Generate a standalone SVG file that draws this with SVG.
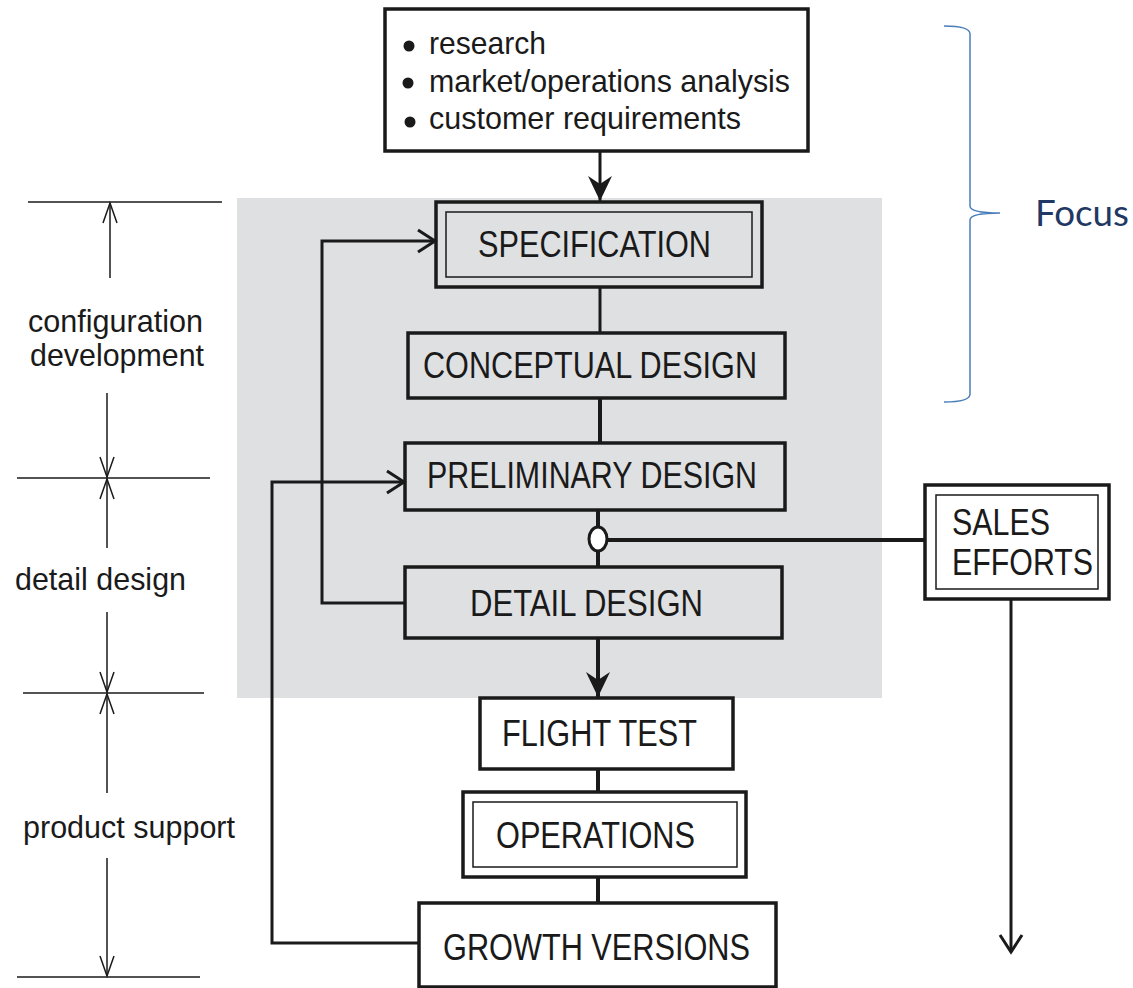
<svg xmlns="http://www.w3.org/2000/svg" width="1133" height="988" viewBox="0 0 1133 988">
<style>
.box{fill:none;stroke:#1a1a1a;stroke-width:3.5}
.wbox{fill:#fff;stroke:#1a1a1a;stroke-width:3.5}
.inner{fill:none;stroke:#1a1a1a;stroke-width:1.5}
.t{font-family:"Liberation Sans",Arial,sans-serif;font-size:37px;fill:#1a1a1a}
.s{font-family:"Liberation Sans",Arial,sans-serif;font-size:32px;fill:#1a1a1a}
.c{fill:none;stroke:#1a1a1a;stroke-width:3}
.ct{fill:none;stroke:#1a1a1a;stroke-width:4}
.dim{fill:none;stroke:#1a1a1a;stroke-width:1.5}
</style>
<defs>
<marker id="open" viewBox="-20 -14 24 28" refX="0" refY="0" markerWidth="24" markerHeight="28" markerUnits="userSpaceOnUse" orient="auto">
<path d="M-17,-11 L0,0 L-17,11" fill="none" stroke="#1a1a1a" stroke-width="3"/>
</marker>
<marker id="fill" viewBox="-26 -14 30 28" refX="0" refY="0" markerWidth="30" markerHeight="28" markerUnits="userSpaceOnUse" orient="auto">
<path d="M-25,-12 L0,0 L-25,12 L-17,0 z" fill="#1a1a1a"/>
</marker>
<marker id="thin" viewBox="-22 -10 26 20" refX="0" refY="0" markerWidth="26" markerHeight="20" markerUnits="userSpaceOnUse" orient="auto">
<path d="M-20,-7 L0,0 L-20,7" fill="none" stroke="#1a1a1a" stroke-width="1.5"/>
</marker>
</defs>
<rect width="1133" height="988" fill="#fff"/>
<rect id="phase-bg" x="237" y="198" width="645" height="500" fill="#dfe0e2"/>

<g id="dimensions">
<line class="dim" x1="28" y1="202" x2="222" y2="202"/>
<line class="dim" x1="17" y1="478" x2="210" y2="478"/>
<line class="dim" x1="23" y1="693" x2="204" y2="693"/>
<line class="dim" x1="17" y1="977" x2="200" y2="977"/>
<line class="dim" x1="110" y1="278" x2="110" y2="203" marker-end="url(#thin)"/>
<line class="dim" x1="107" y1="393" x2="107" y2="477" marker-end="url(#thin)"/>
<line class="dim" x1="107" y1="548" x2="107" y2="479" marker-end="url(#thin)"/>
<line class="dim" x1="107" y1="612" x2="107" y2="692" marker-end="url(#thin)"/>
<line class="dim" x1="107" y1="793" x2="107" y2="694" marker-end="url(#thin)"/>
<line class="dim" x1="107" y1="858" x2="107" y2="976" marker-end="url(#thin)"/>
<text class="s" x="28" y="332" textLength="175" lengthAdjust="spacingAndGlyphs">configuration</text>
<text class="s" x="30" y="366" textLength="174" lengthAdjust="spacingAndGlyphs">development</text>
<text class="s" x="15" y="590" textLength="171" lengthAdjust="spacingAndGlyphs">detail design</text>
<text class="s" x="23" y="838" textLength="212" lengthAdjust="spacingAndGlyphs">product support</text>
</g>

<g id="focus">
<path d="M944,26 Q970,26 970,34 L970,206 Q970,213 1000,213 Q970,213 970,220 L970,394 Q970,402 944,402" fill="none" stroke="#4a7ebb" stroke-width="1.5"/>
<text x="1035" y="226" font-family="Lato,'Open Sans',sans-serif" font-size="37" fill="#1f3864" textLength="94" lengthAdjust="spacingAndGlyphs">Focus</text>
</g>

<g id="connectors">
<line class="c" x1="600" y1="151" x2="600" y2="201" marker-end="url(#fill)"/>
<line class="c" x1="600" y1="287" x2="600" y2="333"/>
<line class="ct" x1="600" y1="398" x2="600" y2="443"/>
<line class="ct" x1="598" y1="510" x2="598" y2="567"/>
<line class="ct" x1="608" y1="540" x2="925" y2="540"/>
<line class="ct" x1="598" y1="638" x2="598" y2="697" marker-end="url(#fill)"/>
<line class="ct" x1="598" y1="769" x2="598" y2="792"/>
<line class="ct" x1="598" y1="877" x2="598" y2="903"/>
<polyline class="c" points="405,603 322,603 322,241 435,241" marker-end="url(#open)"/>
<polyline class="c" points="419,943 272,943 272,482 404,482" marker-end="url(#open)"/>
<line class="c" x1="1011" y1="599" x2="1011" y2="952" marker-end="url(#open)"/>
<ellipse cx="598" cy="539" rx="9" ry="12" fill="#fff" stroke="#1a1a1a" stroke-width="3"/>
</g>

<g id="inputs">
<rect class="wbox" x="385" y="9" width="423" height="142"/>
<circle cx="409" cy="46" r="5.5" fill="#1a1a1a"/>
<circle cx="408" cy="83" r="5.5" fill="#1a1a1a"/>
<circle cx="410" cy="122" r="5.5" fill="#1a1a1a"/>
<text class="s" x="429" y="54" textLength="117" lengthAdjust="spacingAndGlyphs">research</text>
<text class="s" x="429" y="92" textLength="361" lengthAdjust="spacingAndGlyphs">market/operations analysis</text>
<text class="s" x="429" y="129" textLength="312" lengthAdjust="spacingAndGlyphs">customer requirements</text>
</g>

<g id="specification">
<rect class="box" x="436" y="202" width="326" height="85"/>
<rect class="inner" x="446" y="212" width="306" height="65"/>
<text class="t" x="478" y="257" textLength="233" lengthAdjust="spacingAndGlyphs">SPECIFICATION</text>
</g>

<g id="conceptual">
<rect class="box" x="408" y="333" width="377" height="65"/>
<text class="t" x="423" y="378" textLength="334" lengthAdjust="spacingAndGlyphs">CONCEPTUAL DESIGN</text>
</g>

<g id="preliminary">
<rect class="box" x="405" y="443" width="380" height="67"/>
<text class="t" x="427" y="488" textLength="330" lengthAdjust="spacingAndGlyphs">PRELIMINARY DESIGN</text>
</g>

<g id="detail">
<rect class="box" x="405" y="567" width="377" height="71"/>
<text class="t" x="470" y="616" textLength="233" lengthAdjust="spacingAndGlyphs">DETAIL DESIGN</text>
</g>

<g id="flight-test">
<rect class="wbox" x="480" y="698" width="253" height="71"/>
<text class="t" x="502" y="746" textLength="195" lengthAdjust="spacingAndGlyphs">FLIGHT TEST</text>
</g>

<g id="operations">
<rect class="wbox" x="463" y="792" width="283" height="85"/>
<rect class="inner" x="473" y="802" width="264" height="65"/>
<text class="t" x="496" y="848" textLength="199" lengthAdjust="spacingAndGlyphs">OPERATIONS</text>
</g>

<g id="growth">
<rect class="wbox" x="419" y="903" width="357" height="84"/>
<text class="t" x="443" y="960" textLength="307" lengthAdjust="spacingAndGlyphs">GROWTH VERSIONS</text>
</g>

<g id="sales">
<rect class="wbox" x="925" y="485" width="184" height="114"/>
<rect class="inner" x="936" y="495" width="162" height="94"/>
<text class="t" x="952" y="535" textLength="98" lengthAdjust="spacingAndGlyphs">SALES</text>
<text class="t" x="952" y="575" textLength="141" lengthAdjust="spacingAndGlyphs">EFFORTS</text>
</g>
</svg>
